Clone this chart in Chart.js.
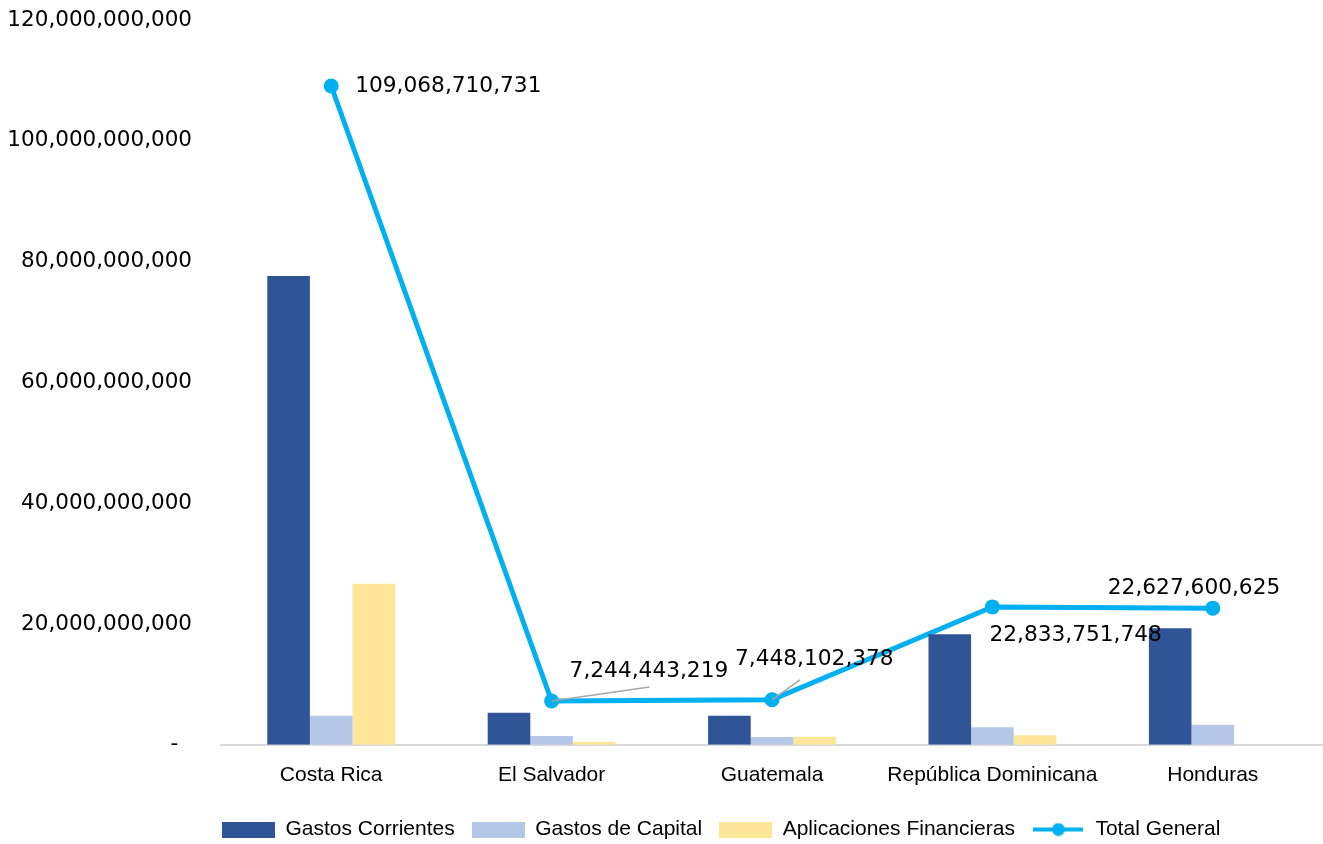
<!DOCTYPE html>
<html>
<head>
<meta charset="utf-8">
<script src="https://cdn.jsdelivr.net/npm/chart.js@4"></script>
<style>
  html, body { margin: 0; background: #fff; overflow: hidden; }
  #miGrafico { display: block; }
</style>
</head>
<body>
<canvas id="miGrafico" width="1323" height="844"></canvas>
<script>
const paises = ['Costa Rica', 'El Salvador', 'Guatemala', 'República Dominicana', 'Honduras'];
const gastosCorrientes = [77600000000, 5300000000, 4800000000, 18300000000, 19300000000];
const gastosCapital = [4800000000, 1450000000, 1300000000, 2900000000, 3300000000];
const aplicacionesFin = [26650000000, 500000000, 1350000000, 1600000000, 0];
const totalGeneral = [109068710731, 7244443219, 7448102378, 22833751748, 22627600625];
const yTicks = [0, 20000000000, 40000000000, 60000000000, 80000000000, 100000000000, 120000000000];

// posicion de las etiquetas respecto al punto (dx, dy, alineacion, linea guia)
const etiquetas = [
    { dx: 24, dy: 0, align: 'left', guia: null },
    { dx: 18, dy: -30, align: 'left', guia: [98, -14] },
    { dx: -37, dy: -40, align: 'left', guia: [28, -20] },
    { dx: -3, dy: 28, align: 'left', guia: null },
    { dx: -105, dy: -20, align: 'left', guia: null }
];

const colores = ['#2F5597', '#B4C7E7', '#FFE699', '#00B0F0'];

function cajaLeyenda(color) {
    const c = document.createElement('canvas');
    c.width = 53; c.height = 16;
    const ctx = c.getContext('2d');
    ctx.fillStyle = color;
    ctx.fillRect(0, 0, 53, 16);
    return c;
}
function lineaLeyenda(color) {
    const c = document.createElement('canvas');
    c.width = 50; c.height = 14;
    const ctx = c.getContext('2d');
    ctx.strokeStyle = color;
    ctx.lineWidth = 4;
    ctx.beginPath(); ctx.moveTo(0, 7); ctx.lineTo(50, 7); ctx.stroke();
    ctx.fillStyle = color;
    ctx.beginPath(); ctx.arc(25, 7, 6.5, 0, Math.PI * 2); ctx.fill();
    return c;
}
const iconos = [cajaLeyenda(colores[0]), cajaLeyenda(colores[1]), cajaLeyenda(colores[2]), lineaLeyenda(colores[3])];

const etiquetasPlugin = {
    id: 'etiquetas',
    afterLayout(chart) {
        // la leyenda arranca en el borde del area del grafico
        const lg = chart.legend;
        if (lg) { lg.left = 205; lg.right = lg.left + lg.width; }
    },
    afterDatasetsDraw(chart) {
        const meta = chart.getDatasetMeta(3);
        const ctx = chart.ctx;
        ctx.save();
        ctx.font = '21.7px "DejaVu Sans"';
        ctx.fillStyle = '#000';
        ctx.textBaseline = 'middle';
        meta.data.forEach((p, i) => {
            const e = etiquetas[i];
            if (e.guia) {
                ctx.strokeStyle = '#A6A6A6';
                ctx.lineWidth = 1.5;
                ctx.beginPath();
                ctx.moveTo(p.x, p.y);
                ctx.lineTo(p.x + e.guia[0], p.y + e.guia[1]);
                ctx.stroke();
            }
            ctx.textAlign = e.align;
            ctx.fillText(totalGeneral[i].toLocaleString('en-US'), p.x + e.dx, p.y + e.dy);
        });
        ctx.restore();
    }
};

const config = {
    type: 'bar',
    data: {
        labels: paises,
        datasets: [
            { label: 'Gastos Corrientes', data: gastosCorrientes, backgroundColor: colores[0] },
            { label: 'Gastos de Capital', data: gastosCapital, backgroundColor: colores[1] },
            { label: 'Aplicaciones Financieras', data: aplicacionesFin, backgroundColor: colores[2] },
            {
                label: 'Total General', data: totalGeneral, type: 'line',
                borderColor: colores[3], backgroundColor: colores[3],
                borderWidth: 5, pointRadius: 7.5, pointHoverRadius: 7.5, pointBorderWidth: 0, tension: 0
            }
        ]
    },
    options: {
        responsive: false,
        animation: false,
        layout: { autoPadding: false, padding: { left: 8, right: 0, top: 20, bottom: -6 } },
        datasets: { bar: { categoryPercentage: 0.58, barPercentage: 1.0 } },
        scales: {
            x: {
                grid: { display: false },
                border: { color: '#D9D9D9', width: 2 },
                afterFit(scale) {
                    scale.height += 4;
                    scale.paddingLeft = 0; scale.paddingRight = 0;
                },
                ticks: { color: '#000', font: { family: 'Liberation Sans', size: 21 }, padding: 10 }
            },
            y: {
                min: 0, max: 120000000000,
                afterBuildTicks(scale) { scale.ticks = yTicks.map(v => ({ value: v })); },
                afterFit(scale) {
                    scale.width = 213;
                    scale.paddingTop = 0; scale.paddingBottom = 0;
                },
                grid: { display: false },
                border: { display: false },
                ticks: {
                    color: '#000', padding: 21,
                    font: { family: 'DejaVu Sans', size: 21.5 },
                    callback: v => v === 0 ? '-  ' : v.toLocaleString('en-US')
                }
            }
        },
        plugins: {
            tooltip: { enabled: false },
            legend: {
                position: 'bottom',
                align: 'start',
                fullSize: false,
                labels: {
                    usePointStyle: true,
                    pointStyleWidth: 53,
                    padding: 17,
                    color: '#000',
                    font: { family: 'Liberation Sans', size: 21 },
                    generateLabels(chart) {
                        const items = Chart.defaults.plugins.legend.labels.generateLabels(chart);
                        items.forEach((it, i) => { it.pointStyle = iconos[i]; });
                        return items;
                    }
                }
            }
        }
    },
    plugins: [etiquetasPlugin]
};

const grafico = new Chart(document.getElementById('miGrafico'), config);
</script>
</body>
</html>
